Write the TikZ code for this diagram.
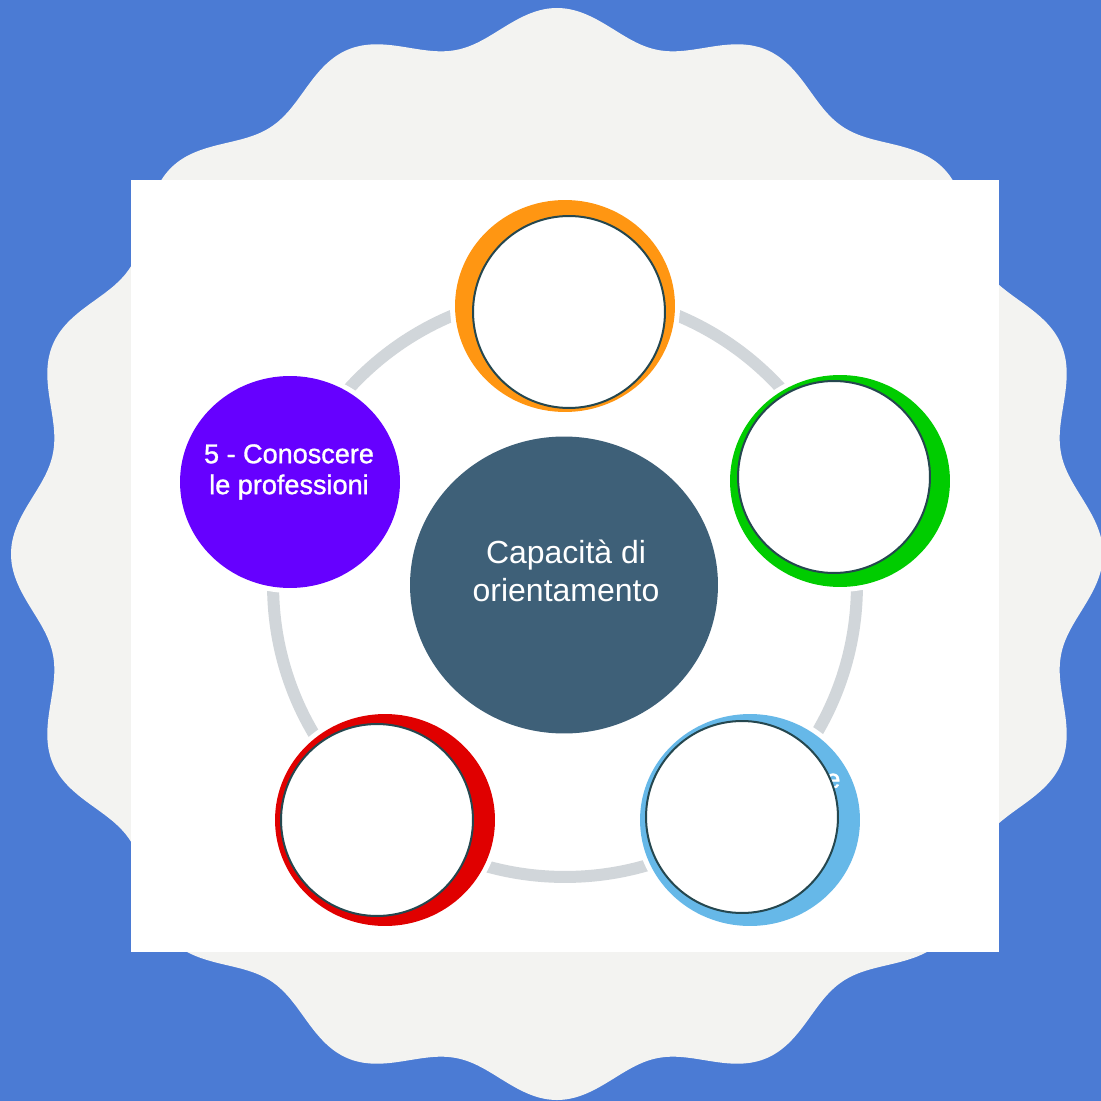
\documentclass[tikz,border=0pt]{standalone}
\usepackage{fontspec}
\setmainfont{Liberation Sans}
\newfontfamily\heavysans[FakeBold=1.2]{Liberation Sans}
\usetikzlibrary{shapes.geometric}
\definecolor{bgblue}{HTML}{4B7BD4}
\definecolor{badgegray}{HTML}{F3F3F1}
\definecolor{ringgray}{HTML}{D1D6DA}
\definecolor{slate}{HTML}{3E6078}
\definecolor{rimdark}{HTML}{25474F}
\definecolor{cOrange}{HTML}{FF9612}
\definecolor{cGreen}{HTML}{00CC00}
\definecolor{cSky}{HTML}{66B8E8}
\definecolor{cRed}{HTML}{E00000}
\definecolor{cPurple}{HTML}{6600FF}

\begin{document}
\begin{tikzpicture}[x=0.02cm,y=-0.02cm,
    rim/.style={ellipse, inner sep=0pt, minimum width=4.4cm, minimum height=4.24cm,
      fill=#1, preaction={draw=white, line width=0.2cm}},
    hole/.style={circle, inner sep=0pt, minimum size=3.84cm, fill=white,
      draw=rimdark, line width=0.04cm},
    ctext/.style={text=white, align=center, inner sep=0pt,
      font={\fontsize{18.2}{21.6}\selectfont}},
    ptext/.style={text=white, align=center, inner sep=0pt,
      font={\heavysans\fontsize{15.4}{17.6}\selectfont}}]
    % First, the background, the badge and the white card
    \fill[bgblue] (0,0) rectangle (1101,1101);
    \useasboundingbox (0,0) rectangle (1101,1101);
    \fill[badgegray] plot[domain=0:359, samples=360, smooth cycle]
      ({557+(530+16*cos(16*\x))*cos(\x)}, {554+(530+16*cos(16*\x))*sin(\x)});
    \fill[white] (131,180) rectangle (999,952);
    % Now the ring and the hub
    \coordinate (hub) at (565,585);
    \draw[ringgray, line width=0.24cm] (hub) circle (5.84cm);
    \node[ellipse, fill=slate, inner sep=0pt, minimum width=6.16cm, minimum height=5.94cm] (centre) at (564,585) {};
    \node[ctext] (centretext) at (566,571) {Capacità di\\orientamento};
    % Then locate each of the coloured circles and name them
    \node[rim=cOrange] (top) at (565,306) {};
    \node[rim=cGreen] (right) at (840,481) {};
    \node[rim=cSky] (lowerright) at (750,820) {};
    \node[rim=cRed] (lowerleft) at (385,820) {};
    \node[rim=cPurple] (left) at (290,482) {};
    \node[ptext] (peek) at (833,781) {e};
    % The white holes
    \node[hole] (topin) at (569,312) {};
    \node[hole] (rightin) at (834,477) {};
    \node[hole] (lowerrightin) at (742,817) {};
    \node[hole] (lowerleftin) at (377,820) {};
    \node[ptext] (lefttext) at (289,472) {5 - Conoscere\\le professioni};
\end{tikzpicture}
\end{document}
